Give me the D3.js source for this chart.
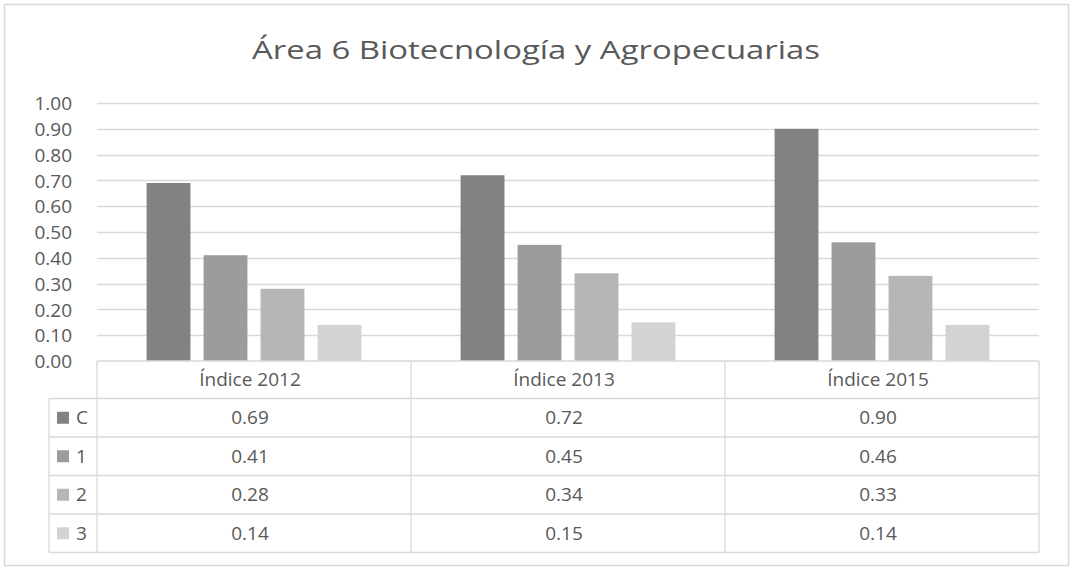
<!DOCTYPE html>
<html><head><meta charset="utf-8">
<script src="https://cdn.jsdelivr.net/npm/d3@7"></script>
<style>body{margin:0;background:#fff}svg{display:block}</style>
</head><body>
<script>
const categories = ["Índice 2012", "Índice 2013", "Índice 2015"];
const seriesNames = ["C", "1", "2", "3"];
const valuesC = [0.69, 0.72, 0.90];
const values1 = [0.41, 0.45, 0.46];
const values2 = [0.28, 0.34, 0.33];
const values3 = [0.14, 0.15, 0.14];
const yTicks = [0, 0.1, 0.2, 0.3, 0.4, 0.5, 0.6, 0.7, 0.8, 0.9, 1.0];
const title = "Área 6 Biotecnología y Agropecuarias";

const series = [valuesC, values1, values2, values3];
const colors = ["#828282", "#9c9c9c", "#b6b6b6", "#d3d3d3"];
const W = 1073, H = 569;
const font = "'Open Sans', 'Noto Sans', sans-serif";
const txt = "#595959";
const fs = "19px";
const svg = d3.select("body").append("svg").attr("width", W).attr("height", H)
  .style("font-family", font);

svg.append("rect").attr("x", 4.5).attr("y", 4.5).attr("width", 1064).attr("height", 561)
  .attr("fill", "#fff").attr("stroke", "#d9d9d9").attr("stroke-width", 1.5);

const x0 = 97, x1 = 1039, yTop = 103, yBase = 361;
const x = d3.scaleBand().domain(categories).range([x0, x1]).paddingInner(0).paddingOuter(0);
const xs = d3.scaleBand().domain(seriesNames).range([0, x.bandwidth()]).paddingInner(0.23).paddingOuter(0.87);
const y = d3.scaleLinear().domain([0, 1]).range([yBase, yTop]);

// title
const t = svg.append("text").attr("x", 536).attr("y", 59).attr("text-anchor", "middle")
  .attr("fill", txt).style("font-size", "26px").text(title);
t.attr("textLength", 568).attr("lengthAdjust", "spacingAndGlyphs");

// gridlines
svg.append("g").selectAll("line").data(yTicks.filter(d => d > 0)).join("line")
  .attr("x1", x0).attr("x2", x1).attr("y1", d => Math.round(y(d)) + 0.5).attr("y2", d => Math.round(y(d)) + 0.5)
  .attr("stroke", "#d9d9d9").attr("stroke-width", 1.3);

// y axis labels
const yAxis = d3.axisLeft(y).tickValues(yTicks).tickFormat(d3.format(".2f")).tickSize(0).tickPadding(0);
const ga = svg.append("g").attr("transform", `translate(72,0)`).call(yAxis);
ga.select(".domain").remove();
ga.selectAll("text").attr("fill", txt).style("font-size", fs).style("font-family", font).attr("dy", "0.35em");

// bars
seriesNames.forEach((s, si) => {
  svg.append("g").selectAll("rect").data(series[si]).join("rect")
    .attr("x", (d, i) => x(categories[i]) + xs(s))
    .attr("width", xs.bandwidth())
    .attr("y", d => y(d)).attr("height", d => yBase - y(d))
    .attr("fill", colors[si]);
});

// data table
const hdrH = 37.5, rowH = 38.5;
const rowTop = i => yBase + hdrH + i * rowH;
const tbl = svg.append("g");
const lc = "#d9d9d9";
const tableBottom = rowTop(4);
const legX = 49;
tbl.append("line").attr("x1", x0).attr("x2", x1).attr("y1", yBase).attr("y2", yBase).attr("stroke", lc).attr("stroke-width", 1.3);
[0, 1, 2, 3, 4].forEach(i => {
  tbl.append("line").attr("x1", legX).attr("x2", x1).attr("y1", rowTop(i)).attr("y2", rowTop(i)).attr("stroke", lc).attr("stroke-width", 1.3);
});
[x0, ...categories.map(c => x(c) + x.bandwidth())].forEach(v => {
  tbl.append("line").attr("x1", v).attr("x2", v).attr("y1", yBase).attr("y2", tableBottom).attr("stroke", lc).attr("stroke-width", 1.3);
});
tbl.append("line").attr("x1", legX).attr("x2", legX).attr("y1", rowTop(0)).attr("y2", tableBottom).attr("stroke", lc).attr("stroke-width", 1.3);

// header
tbl.selectAll("text.hdr").data(categories).join("text").attr("class", "hdr")
  .attr("x", d => x(d) + x.bandwidth() / 2 - 4).attr("y", yBase + hdrH / 2).attr("dy", "0.35em")
  .attr("text-anchor", "middle").attr("fill", txt).style("font-size", fs).text(d => d);

// rows
seriesNames.forEach((s, si) => {
  const cy = rowTop(si) + rowH / 2;
  tbl.append("rect").attr("x", 57).attr("y", cy - 6).attr("width", 12).attr("height", 12).attr("fill", colors[si]);
  tbl.append("text").attr("x", 76).attr("y", cy).attr("dy", "0.35em").attr("fill", txt)
    .style("font-size", fs).text(s);
  tbl.append("g").selectAll("text").data(series[si]).join("text")
    .attr("x", (d, i) => x(categories[i]) + x.bandwidth() / 2 - 4).attr("y", cy).attr("dy", "0.35em")
    .attr("text-anchor", "middle").attr("fill", txt).style("font-size", fs)
    .text(d => d3.format(".2f")(d));
});
</script>
</body></html>
